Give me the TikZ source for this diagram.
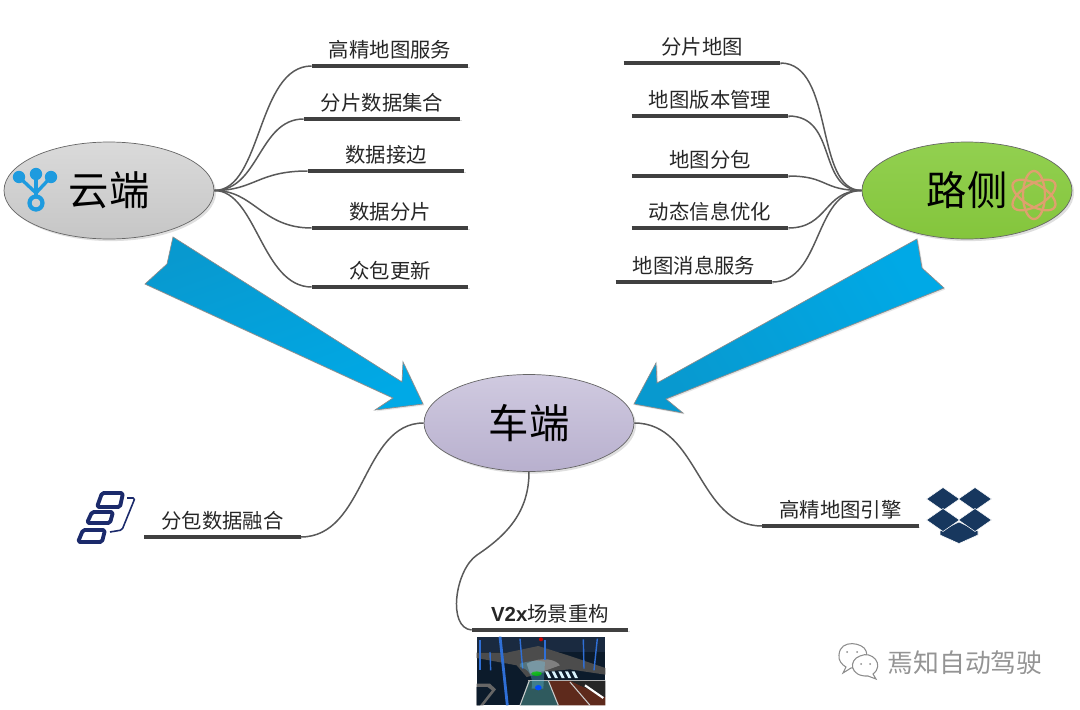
\documentclass[tikz,border=0pt]{standalone}
\usepackage{fontspec}
\setmainfont{Noto Sans CJK SC}
\newfontfamily\latinfont{Liberation Sans}
\usetikzlibrary{shapes.geometric}
\usetikzlibrary{shadows}
\definecolor{arrowblue}{HTML}{00A9E6}
\definecolor{arrowdark}{HTML}{0899CF}
\definecolor{iconblue}{HTML}{1E9BDF}
\definecolor{atomtan}{HTML}{DFA06E}
\definecolor{stacknavy}{HTML}{1B2A6B}
\definecolor{boxnavy}{HTML}{17375E}
\definecolor{nightsky}{HTML}{1A2A40}
\definecolor{nightground}{HTML}{0C1B2B}
\definecolor{lampblue}{HTML}{2F6FD6}
\definecolor{laneteal}{HTML}{2F5A5E}
\definecolor{lanered}{HTML}{5E2A1C}
\definecolor{cloudtop}{HTML}{DADADA}
\definecolor{cloudbot}{HTML}{C6C6C6}
\definecolor{roadtop}{HTML}{92D050}
\definecolor{roadbot}{HTML}{84C53C}
\definecolor{cartop}{HTML}{D0CAE0}
\definecolor{carbot}{HTML}{B8B0CE}
\tikzstyle{hub}=[ellipse,draw=black!60,minimum width=4.2cm,minimum height=1.94cm,inner sep=0pt,font=\fontsize{23}{25}\selectfont,drop shadow={shadow xshift=1.2pt,shadow yshift=-1.2pt,opacity=0.25}]
\tikzstyle{branch}=[anchor=south,minimum width=3.12cm,inner xsep=0pt,inner ysep=2.5pt,text height=9.5pt,text depth=2pt,font=\fontsize{11.6}{13}\selectfont,text=black!85]
\tikzstyle{bar}=[line width=2.6pt,draw=black!75,preaction={draw=black!15,transform canvas={shift={(0.9pt,-0.9pt)}}}]
\tikzstyle{link}=[draw=black!65,line width=0.85pt]
\tikzstyle{bigarrow}=[draw=black!45,line width=0.4pt,top color=arrowdark,bottom color=arrowblue,drop shadow={shadow xshift=0.8pt,shadow yshift=-0.8pt,opacity=0.2}]

\begin{document}
\begin{tikzpicture}[x=0.02cm,y=-0.02cm]
\useasboundingbox (0,0) rectangle (1080,710);

% big arrows
\draw[bigarrow,shading angle=20] (173,237) -- (167,264) -- (145,284) -- (393,398) -- (375,410) -- (423,404) -- (403,362) -- (402,382) -- cycle;
\draw[bigarrow,top color=arrowblue,bottom color=arrowdark,shading angle=-60] (917,239) -- (922,268) -- (944,288) -- (666,399) -- (683,413) -- (634,404) -- (656,363) -- (657,383) -- cycle;

% hubs
\node[hub,top color=cloudtop,bottom color=cloudbot] (cloud) at (109,190.5) {云端};
\node[hub,top color=roadtop,bottom color=roadbot] (road) at (967,190.5) {路侧};
\node[hub,top color=cartop,bottom color=carbot] (car) at (529,423) {车端};

% branches
\node[branch] (hdmap) at (390,66) {高精地图服务};
\node[branch] (tiles) at (382,119) {分片数据集合};
\node[branch] (seams) at (386,171) {数据接边};
\node[branch] (slice) at (390,228) {数据分片};
\node[branch] (crowd) at (390,287) {众包更新};

\node[branch] (tilemap) at (702,63) {分片地图};
\node[branch] (version) at (710,116) {地图版本管理};
\node[branch] (packet) at (710,176) {地图分包};
\node[branch] (dynamic) at (710,228) {动态信息优化};
\node[branch] (message) at (694,282) {地图消息服务};

\node[branch] (fusion) at (222.5,537) {分包数据融合};
\node[branch] (engine) at (840.5,526) {高精地图引擎};
\node[branch] (scene) at (550,630) {{\latinfont\bfseries V2x}场景重构};

% edges and paths
\foreach \n in {hdmap,tiles,seams,slice,crowd,tilemap,version,packet,dynamic,message,fusion,engine,scene}
  \draw[bar] (\n.south west) -- (\n.south east);

\foreach \n/\a/\b in {hdmap/48/-55,tiles/45/-45,seams/40/-50,slice/40/-50,crowd/42/-50}
  \draw[link] (cloud.east) .. controls +(\a,0) and +(\b,0) .. (\n.south west);
\foreach \n/\a/\b in {tilemap/-48/55,version/-45/50,packet/-40/40,dynamic/-38/40,message/-48/50}
  \draw[link] (road.west) .. controls +(\a,0) and +(\b,0) .. (\n.south east);

\draw[link] (car.west) .. controls +(-62,0) and +(65,0) .. (fusion.south east);
\draw[link] (car.east) .. controls +(65,0) and +(-65,0) .. (engine.south west);
\draw[link] (car.south) .. controls +(0,40) and (507,535) .. (477,555) .. controls (455,570) and (447,628) .. (scene.south west);

% cloud icon
\begin{scope}[iconblue]
\draw[line width=1.9pt] (19,177) -- (36,193) -- (51,177);
\draw[line width=1.9pt] (36,174) -- (36,197);
\fill (19,177) circle (6.2);
\fill (36,174) circle (6.2);
\fill (51,177) circle (6.2);
\draw[line width=2.4pt] (36,203) circle (6.5);
\end{scope}

% atom icon
\foreach \r in {90,30,-30}
  \draw[atomtan,line width=1.3pt,rotate around={\r:(1034,195)}] (1034,195) ellipse (24 and 11);

% stack icon
\begin{scope}[stacknavy,line width=2.2pt,line join=round,rounded corners=1pt]
\draw (102,493) -- (123,493) -- (120,507) -- (97,507) -- cycle;
\draw (92,512) -- (113,512) -- (110,523) -- (87,523) -- cycle;
\draw (83,530) -- (105,530) -- (102,542) -- (78,542) -- cycle;
\draw[line width=0.9pt] (127,498) -- (135,498) -- (122,530) -- (110,532);
\end{scope}

% box icon
\begin{scope}[boxnavy,draw=white,line width=0.3pt]
\filldraw (940,531) -- (959,522) -- (978,531) -- (978,535) -- (959,543.5) -- (940,535) -- cycle;
\foreach \x/\y in {943/499,975/499,943/520,975/520}
  \filldraw (\x-16.5,\y) -- (\x,\y-11.5) -- (\x+16.5,\y) -- (\x,\y+11.5) -- cycle;
\end{scope}

% street picture
\begin{scope}[shift={(470,632)},x=0.00667cm,y=-0.00667cm]
\clip (20,14) rectangle (406,220);
\fill[nightground] (20,14) rectangle (406,220);
\fill[nightsky] (20,14) rectangle (406,60);
\fill[black!70] (20,62) -- (110,62) -- (205,42) -- (300,72) -- (406,108) -- (406,128) -- (300,112) -- (235,118) -- (170,135) -- (140,100) -- (20,78) -- cycle;
\fill[black!50] (170,95) .. controls (220,70) and (260,85) .. (270,100) -- (220,118) -- (180,125) -- cycle;
\fill[laneteal] (175,146) -- (235,146) -- (265,220) -- (150,220) -- cycle;
\fill[lanered] (235,146) -- (300,146) -- (406,195) -- (406,220) -- (265,220) -- cycle;
\fill[black!85] (300,146) -- (406,146) -- (406,195) -- cycle;
\draw[black!20,line width=0.6pt] (178,146) -- (150,220);
\draw[black!20,line width=0.6pt] (235,146) -- (265,220);
\draw[black!20,line width=0.6pt] (300,150) -- (360,220);
\draw[black!30,line width=0.6pt] (175,146) -- (406,146);
\draw[white,line width=1.2pt] (345,160) -- (400,198);
\foreach \x in {225,245,265,285,305}
  \fill[white!85!cyan] (\x,118) -- (\x+9,118) -- (\x+19,138) -- (\x+10,138) -- cycle;
\fill[black!60] (20,155) -- (60,155) -- (78,172) -- (40,220) -- (20,220) -- cycle;
\fill[nightground] (20,165) -- (52,165) -- (65,175) -- (30,220) -- (20,220) -- cycle;
\foreach \xa/\ya/\xb/\yb in {30/25/30/115,60/60/62/115,150/20/158/110,225/25/225/85,340/22/342/110,382/20/372/115}
  \draw[lampblue,line width=0.8pt] (\xa,\ya) -- (\xb,\yb);
\draw[lampblue,line width=1.6pt] (90,14) -- (112,220);
\fill[cyan!60!white,opacity=0.3] (150,95) .. controls (180,85) and (210,85) .. (225,90) -- (220,170) -- (185,170) .. controls (190,130) and (175,110) .. (150,105) -- cycle;
\fill[green!80!black,opacity=0.75] (200,125) ellipse (16 and 7);
\fill[blue!70!cyan] (205,167) ellipse (10 and 8);
\fill[red!80!black] (213,22) circle (6);
\end{scope}

% watermark
\begin{scope}[draw=black!45,fill=white,line width=0.6pt]
\filldraw (846,667) -- (843,673) -- (851,668) .. controls (866,667) and (868,655) .. (866,651) .. controls (864,643) and (840,638) .. (839,655) .. controls (838,660) and (842,665) .. (846,667) -- cycle;
\filldraw (873,674) -- (876,679) -- (868,676) .. controls (850,677) and (848,660) .. (860,656) .. controls (872,650) and (885,665) .. (873,674) -- cycle;
\fill[black!45] (847,652) circle (1);
\fill[black!45] (857,652) circle (1);
\fill[black!45] (861,664) circle (1);
\fill[black!45] (870,664) circle (1);
\end{scope}
\node[font=\fontsize{14.7}{16}\selectfont,text=black!42,inner sep=0pt] (mark) at (965,663) {焉知自动驾驶};

\end{tikzpicture}
\end{document}
